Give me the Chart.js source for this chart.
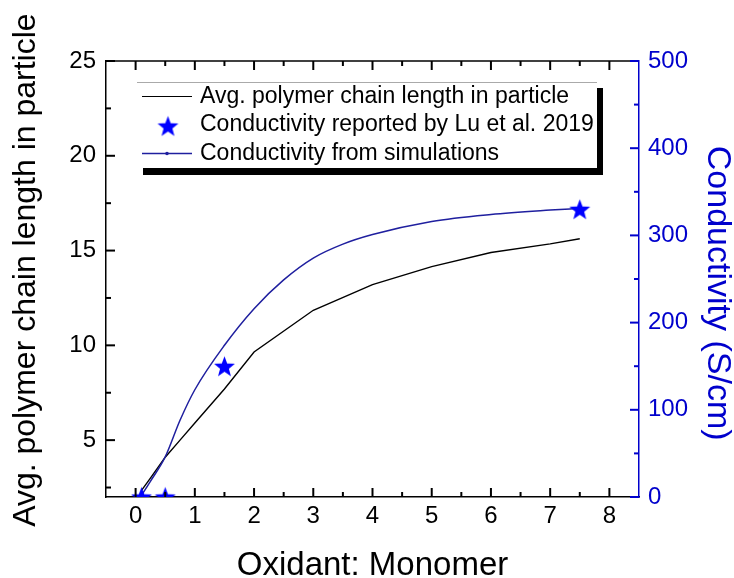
<!DOCTYPE html>
<html><head><meta charset="utf-8">
<script src="https://cdn.jsdelivr.net/npm/chart.js@4.4.1/dist/chart.umd.min.js"></script>
<style>html,body{margin:0;padding:0;background:#fff;}canvas{display:block;}</style>
</head><body>
<canvas id="c" width="734" height="578"></canvas>
<script>
// ---- data ----
const chainX = [0.1, 0.25, 0.5, 0.75, 1, 1.5, 2, 3, 4, 5, 6, 7, 7.5];
const chainLength = [2.35, 3.0, 4.1, 5.0, 5.9, 7.7, 9.65, 11.85, 13.2, 14.15, 14.9, 15.35, 15.62];
const simX = [0.1, 0.25, 0.5, 0.75, 1, 1.5, 2, 2.5, 3, 3.5, 4, 5, 6, 7, 7.5];
const simConductivity = [2, 18, 46, 88, 123, 174, 216, 249, 274, 290, 301, 316, 324, 329, 331];
const luX = [0.1, 0.5, 1.5, 7.5];
const luConductivity = [0, 0, 150, 330];
const xTicks = [0, 1, 2, 3, 4, 5, 6, 7, 8];
const xMinorTicks = [0.5, 1.5, 2.5, 3.5, 4.5, 5.5, 6.5, 7.5];
const yLeftTicks = [5, 10, 15, 20, 25];
const yLeftMinorTicks = [2.5, 7.5, 12.5, 17.5, 22.5];
const yRightTicks = [0, 100, 200, 300, 400, 500];
const yRightMinorTicks = [50, 150, 250, 350, 450];
const legendLabels = ['Avg. polymer chain length in particle', 'Conductivity reported by Lu et al. 2019', 'Conductivity from simulations'];
const xTitle = 'Oxidant: Monomer';
const yLeftTitle = 'Avg. polymer chain length in particle';
const yRightTitle = 'Conductivity (S/cm)';

const FONT = "'Liberation Sans', Arial, sans-serif";
const BLUE_AXIS = '#0000cc';
const BLUE_LINE = '#1f1f9f';
const BLUE_STAR = '#0000ff';

function makeStar(size, color) {
  const c = document.createElement('canvas');
  c.width = size; c.height = size;
  const g = c.getContext('2d');
  const cx = size / 2, cy = size / 2 + 1, R = size / 2 - 0.5, r = R * 0.42;
  g.beginPath();
  for (let i = 0; i < 10; i++) {
    const rad = i % 2 === 0 ? R : r;
    const a = -Math.PI / 2 + i * Math.PI / 5;
    const px = cx + rad * Math.cos(a), py = cy + rad * Math.sin(a);
    i === 0 ? g.moveTo(px, py) : g.lineTo(px, py);
  }
  g.closePath();
  g.fillStyle = color;
  g.fill();
  return c;
}
const starImg = makeStar(23, BLUE_STAR);
const toPts = (xs, ys) => xs.map((x, i) => ({x, y: ys[i]}));

function drawSeg(ctx, x1, y1, x2, y2) {
  ctx.beginPath(); ctx.moveTo(x1, y1); ctx.lineTo(x2, y2); ctx.stroke();
}

const decorPlugin = {
  id: 'decor',
  afterDraw(chart) {
    const ctx = chart.ctx;
    const area = chart.chartArea;
    const left = area.left, right = area.right, top = area.top, bottom = area.bottom;
    const xs = chart.scales.x, yl = chart.scales.y, yr = chart.scales.y1;
    ctx.save();
    // top frame line
    ctx.lineWidth = 1.5;
    ctx.strokeStyle = '#000000';
    drawSeg(ctx, left, top, right, top);
    // inward major/minor ticks (bottom axis mirrored on top)
    ctx.lineWidth = 2;
    for (const v of xTicks) {
      const p = xs.getPixelForValue(v);
      drawSeg(ctx, p, bottom, p, bottom - 9);
      drawSeg(ctx, p, top, p, top + 9);
    }
    for (const v of xMinorTicks) {
      const p = xs.getPixelForValue(v);
      drawSeg(ctx, p, bottom, p, bottom - 5);
      drawSeg(ctx, p, top, p, top + 5);
    }
    for (const v of yLeftTicks) {
      const p = yl.getPixelForValue(v);
      drawSeg(ctx, left, p, left + 9, p);
    }
    for (const v of yLeftMinorTicks) {
      const p = yl.getPixelForValue(v);
      drawSeg(ctx, left, p, left + 5, p);
    }
    ctx.strokeStyle = BLUE_AXIS;
    for (const v of yRightTicks) {
      const p = yr.getPixelForValue(v);
      drawSeg(ctx, right, p, right - 9, p);
    }
    for (const v of yRightMinorTicks) {
      const p = yr.getPixelForValue(v);
      drawSeg(ctx, right, p, right - 5, p);
    }

    // legend box with drop shadow
    const bx = 137, by = 82, bw = 460, bh = 86;
    ctx.fillStyle = '#000';
    ctx.fillRect(bx + 6, by + 6, bw, bh + 1);
    ctx.fillStyle = '#fff';
    ctx.fillRect(bx, by, bw, bh);
    ctx.strokeStyle = '#aaaaaa';
    ctx.lineWidth = 1;
    drawSeg(ctx, bx, by + 0.5, bx + bw, by + 0.5);
    const rows = [96.5, 125, 153.5];
    ctx.strokeStyle = '#000'; ctx.lineWidth = 1.2;
    drawSeg(ctx, 142, rows[0], 192, rows[0]);
    ctx.drawImage(starImg, 168 - 11.5, rows[1] + 1 - 11.5);
    ctx.strokeStyle = BLUE_LINE; ctx.lineWidth = 1.5;
    drawSeg(ctx, 142, rows[2], 192, rows[2]);
    ctx.fillStyle = BLUE_LINE;
    ctx.beginPath(); ctx.arc(167, rows[2], 1.8, 0, Math.PI * 2); ctx.fill();
    ctx.fillStyle = '#000';
    ctx.font = '23px ' + FONT;
    ctx.textBaseline = 'middle';
    ctx.textAlign = 'left';
    legendLabels.forEach((t, i) => ctx.fillText(t, 200, rows[i]));
    ctx.restore();
  }
};

new Chart(document.getElementById('c'), {
  type: 'line',
  data: {
    datasets: [
      {label: legendLabels[1], type: 'scatter', data: toPts(luX, luConductivity), yAxisID: 'y1', pointStyle: starImg, pointRadius: 11, showLine: false, order: 0},
      {label: legendLabels[2], data: toPts(simX, simConductivity), yAxisID: 'y1', borderColor: BLUE_LINE, borderWidth: 1.5, pointRadius: 0, tension: 0.4, cubicInterpolationMode: 'monotone', fill: false, order: 1},
      {label: legendLabels[0], data: toPts(chainX, chainLength), yAxisID: 'y', borderColor: '#000', borderWidth: 1.4, pointRadius: 0, tension: 0, fill: false, order: 2}
    ]
  },
  options: {
    responsive: false, animation: false, events: [],
    layout: {padding: {top: 61, left: 0, right: 0, bottom: 0}},
    plugins: {legend: {display: false}, tooltip: {enabled: false}, title: {display: false}},
    scales: {
      x: {
        type: 'linear', position: 'bottom', min: -0.5, max: 8.5,
        afterBuildTicks: s => { s.ticks = xTicks.map(v => ({value: v})); },
        afterFit: s => { s.height = 81; },
        grid: {display: false, drawTicks: false},
        border: {display: true, color: '#000', width: 1.5},
        ticks: {font: {family: FONT, size: 24}, color: '#000', padding: 5, maxRotation: 0, autoSkip: false},
        title: {display: true, text: xTitle, color: '#000', font: {family: FONT, size: 33, lineHeight: 1}, padding: {top: 0, bottom: -4}}
      },
      y: {
        type: 'linear', position: 'left', min: 2, max: 25,
        afterBuildTicks: s => { s.ticks = yLeftTicks.map(v => ({value: v})); },
        afterFit: s => { s.width = 106; },
        grid: {display: false, drawTicks: false},
        border: {display: true, color: '#000', width: 1.5},
        ticks: {font: {family: FONT, size: 24}, color: '#000', padding: 10},
        title: {display: true, text: '\u00a0\u00a0' + yLeftTitle, color: '#000', font: {family: FONT, size: 32, lineHeight: 1}, padding: {top: 10, bottom: 0}}
      },
      y1: {
        type: 'linear', position: 'right', min: 0, max: 500,
        afterBuildTicks: s => { s.ticks = yRightTicks.map(v => ({value: v})); },
        afterFit: s => { s.width = 95; },
        grid: {display: false, drawTicks: false},
        border: {display: true, color: BLUE_AXIS, width: 1.5},
        ticks: {font: {family: FONT, size: 24}, color: BLUE_AXIS, padding: 9},
        title: {display: true, text: '\u00a0\u00a0\u00a0' + yRightTitle, color: BLUE_AXIS, font: {family: FONT, size: 34, lineHeight: 1}, padding: {top: 0, bottom: 0}}
      }
    }
  },
  plugins: [decorPlugin]
});
</script>
</body></html>
